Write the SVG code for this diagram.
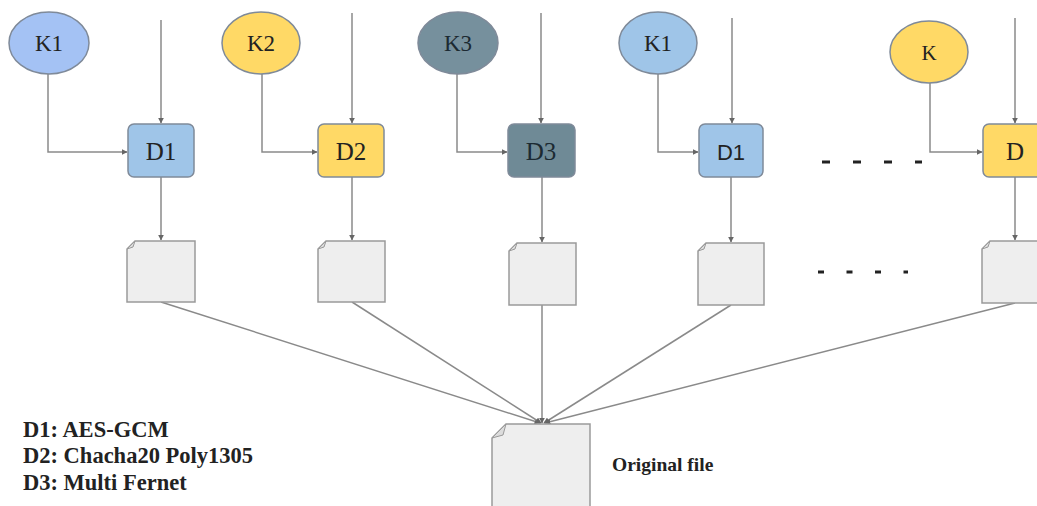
<svg xmlns="http://www.w3.org/2000/svg" width="1037" height="506" viewBox="0 0 1037 506">
<defs>
<marker id="ah" viewBox="0 0 10 10" refX="9" refY="5" markerWidth="6" markerHeight="6" markerUnits="userSpaceOnUse" orient="auto">
<path d="M0,0 L10,5 L0,10 z" fill="#666"/>
</marker>
<style>
.c{fill:none;stroke:#8a8a8a;stroke-width:1.5}
.k{stroke:#7f8a99;stroke-width:1.5}
.lbl{font-family:"Liberation Serif",serif;font-size:23px;fill:#222;text-anchor:middle}
.doc{fill:#eeeeee;stroke:#9a9a9a;stroke-width:1.5}
.fold{fill:#dcdcdc;stroke:#9a9a9a;stroke-width:1}
.leg{font-family:"Liberation Serif",serif;font-weight:bold;font-size:22.5px;fill:#222}
</style>
</defs>
<rect width="1037" height="506" fill="#fff"/>

<g id="connectors">
<path class="c" d="M48,74 V152 H127" marker-end="url(#ah)"/>
<path class="c" d="M161,20 V123" marker-end="url(#ah)"/>
<path class="c" d="M161,177 V240" marker-end="url(#ah)"/>
<path class="c" d="M262,74 V152 H317" marker-end="url(#ah)"/>
<path class="c" d="M352,13 V123" marker-end="url(#ah)"/>
<path class="c" d="M352,177 V240" marker-end="url(#ah)"/>
<path class="c" d="M457,74 V152 H507" marker-end="url(#ah)"/>
<path class="c" d="M541,13 V123" marker-end="url(#ah)"/>
<path class="c" d="M542,177 V242" marker-end="url(#ah)"/>
<path class="c" d="M658,74 V152 H698" marker-end="url(#ah)"/>
<path class="c" d="M732,18 V123" marker-end="url(#ah)"/>
<path class="c" d="M731,177 V242" marker-end="url(#ah)"/>
<path class="c" d="M930,83 V152 H982" marker-end="url(#ah)"/>
<path class="c" d="M1015,18 V123" marker-end="url(#ah)"/>
<path class="c" d="M1015,177 V240" marker-end="url(#ah)"/>
<path class="c" d="M161,302 L540,423" marker-end="url(#ah)"/>
<path class="c" d="M352,302 L541,423" marker-end="url(#ah)"/>
<path class="c" d="M542,305 V423" marker-end="url(#ah)"/>
<path class="c" d="M731,305 L544,423" marker-end="url(#ah)"/>
<path class="c" d="M1015,303 L545,423" marker-end="url(#ah)"/>
</g>

<g id="K1a"><ellipse class="k" cx="49" cy="43" rx="40" ry="31" fill="#a4c2f4"/><text class="lbl" x="49" y="51">K1</text></g>
<g id="K2"><ellipse class="k" cx="261" cy="43" rx="39" ry="31" fill="#ffd966"/><text class="lbl" x="261" y="51">K2</text></g>
<g id="K3"><ellipse class="k" cx="458" cy="43" rx="40" ry="31" fill="#76909d"/><text class="lbl" x="458" y="51" style="fill:#1c2a32">K3</text></g>
<g id="K1b"><ellipse class="k" cx="658" cy="43" rx="39" ry="31" fill="#9fc5e8"/><text class="lbl" x="658" y="51">K1</text></g>
<g id="K"><ellipse class="k" cx="929" cy="52" rx="39" ry="31" fill="#ffd966"/><text class="lbl" x="929" y="60" style="font-size:21px">K</text></g>

<g id="D1a"><rect class="k" x="128" y="124" width="66" height="53" rx="6" fill="#9fc5e8"/><text class="lbl" x="161" y="160" style="font-size:25px">D1</text></g>
<g id="D2"><rect class="k" x="318" y="124" width="66" height="53" rx="6" fill="#ffd966"/><text class="lbl" x="351" y="160" style="font-size:25px">D2</text></g>
<g id="D3"><rect class="k" x="508" y="124" width="67" height="53" rx="6" fill="#6f8a96"/><text class="lbl" x="541" y="160" style="font-size:25px;fill:#1c2a32">D3</text></g>
<g id="D1b"><rect class="k" x="699" y="124" width="64" height="53" rx="6" fill="#9fc5e8"/><text class="lbl" x="731" y="160" style="font-family:'Liberation Sans',sans-serif;font-size:22px">D1</text></g>
<g id="D"><rect class="k" x="983" y="124" width="70" height="53" rx="6" fill="#ffd966"/><text class="lbl" x="1015" y="160" style="font-size:25px">D</text></g>

<g id="dots1"><path d="M822,162 H922" stroke="#222" stroke-width="3" stroke-dasharray="8,23"/></g>
<g id="dots2"><path d="M818,272 H908" stroke="#222" stroke-width="3" stroke-dasharray="6,22.5"/></g>

<g id="doc1"><path class="doc" d="M135,241 H195 V302 H127 V249 Z"/><path class="fold" d="M127,249 L135,241 L133,247 Z"/></g>
<g id="doc2"><path class="doc" d="M326,241 H385 V302 H318 V249 Z"/><path class="fold" d="M318,249 L326,241 L324,247 Z"/></g>
<g id="doc3"><path class="doc" d="M517,243 H576 V305 H509 V251 Z"/><path class="fold" d="M509,251 L517,243 L515,249 Z"/></g>
<g id="doc4"><path class="doc" d="M706,243 H764 V305 H698 V251 Z"/><path class="fold" d="M698,251 L706,243 L704,249 Z"/></g>
<g id="doc5"><path class="doc" d="M990,241 H1045 V303 H982 V249 Z"/><path class="fold" d="M982,249 L990,241 L988,247 Z"/></g>

<g id="original"><path class="doc" d="M506,424 H590 V520 H492 V438 Z"/><path class="fold" d="M492,438 L506,424 L503,435 Z"/>
<text x="612" y="471" style="font-family:'Liberation Serif',serif;font-weight:bold;font-size:19.5px;fill:#222">Original file</text></g>

<g id="legend">
<text class="leg" x="23" y="437">D1: AES-GCM</text>
<text class="leg" x="23" y="463">D2: Chacha20 Poly1305</text>
<text class="leg" x="23" y="490">D3: Multi Fernet</text>
</g>
</svg>
